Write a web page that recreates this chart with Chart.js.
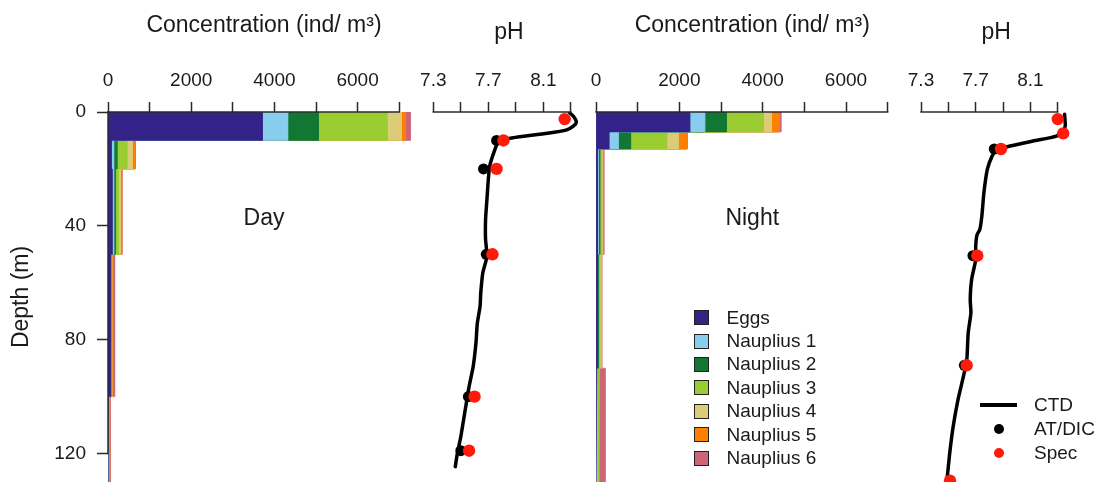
<!DOCTYPE html>
<html lang="en">
<head>
  <meta charset="UTF-8" />
  <title>Nauplii concentration and pH profiles</title>
  <script src="https://cdn.jsdelivr.net/npm/chart.js"></script>
  <style>
    html, body { margin: 0; padding: 0; background: #fff; }
    .stage {
      position: relative; width: 1100px; height: 482px; overflow: hidden;
      font-family: "Liberation Sans", Arial, sans-serif; color: #1a1a1a;
    }
    .stage canvas { position: absolute; left: 0; top: 0; }
    .legend { position: absolute; font-size: 19px; }
    .legend .row { display: flex; align-items: center; white-space: nowrap; }
    .legend .swatch { display: flex; justify-content: center; align-items: center; flex: none; }
    #stageLegend { left: 694px; top: 306px; }
    #stageLegend .row { height: 23.4px; }
    #stageLegend .swatch { width: 15px; margin-right: 17.5px; }
    #phLegend { left: 980px; top: 393px; }
    #phLegend .row { height: 24.2px; }
    #phLegend .swatch { width: 37px; margin-right: 17px; }
    .box { width: 15px; height: 15px; box-sizing: border-box; border: 1.5px solid #222; }
    .rule { width: 37px; height: 3.5px; }
    .dot { width: 10px; height: 10px; border-radius: 50%; }
  </style>
</head>
<body>
  <div class="stage">
    <canvas id="dayConc" width="1100" height="482"></canvas>
    <canvas id="dayPh" width="1100" height="482"></canvas>
    <canvas id="nightConc" width="1100" height="482"></canvas>
    <canvas id="nightPh" width="1100" height="482"></canvas>
    <div class="legend" id="stageLegend"></div>
    <div class="legend" id="phLegend"></div>
  </div>

  <script>
    // ---- life stages ----
    const stageNames = ['Eggs', 'Nauplius 1', 'Nauplius 2', 'Nauplius 3', 'Nauplius 4', 'Nauplius 5', 'Nauplius 6'];
    const stageColors = ['#332288', '#88ccee', '#117733', '#9acd32', '#ddcc77', '#ff7f00', '#cc6677'];

    // ---- day net tows: depth layers (m) and ind/m3 per layer ----
    const dayBreaks = [0, 10, 20, 50, 100, 130];
    const dayEggs = [3710, 80, 100, 60, 3];
    const dayN1 = [610, 56, 40, 5, 2];
    const dayN2 = [740, 80, 40, 5, 2];
    const dayN3 = [1650, 240, 70, 10, 5];
    const dayN4 = [345, 128, 50, 10, 8];
    const dayN5 = [95, 56, 30, 10, 20];
    const dayN6 = [120, 16, 5, 60, 15];

    // ---- night net tows ----
    const nightBreaks = [0, 7, 13, 50, 90, 130];
    const nightEggs = [2250, 310, 40, 30, 20];
    const nightN1 = [360, 225, 20, 10, 10];
    const nightN2 = [520, 295, 30, 20, 10];
    const nightN3 = [890, 865, 40, 30, 20];
    const nightN4 = [190, 280, 20, 30, 10];
    const nightN5 = [190, 200, 20, 10, 10];
    const nightN6 = [40, 15, 20, 10, 140];

    // ---- day pH profiles ----
    const dayCtdDepth = [0.2, 1.6, 3.5, 4.9, 6.3, 7.5, 8.7, 9.4, 10.8, 14.3, 19, 23.7, 30.7, 37.8, 44.8, 50.7,
                         56.5, 63.6, 68.3, 74.2, 81.2, 89.4, 96.5, 102.3, 108.2, 114.1, 119.9, 124.6];
    const dayCtdPh = [8.29, 8.32, 8.34, 8.32, 8.27, 8.13, 7.93, 7.84, 7.77, 7.74, 7.71, 7.70, 7.69, 7.68, 7.68, 7.69,
                      7.66, 7.645, 7.64, 7.62, 7.61, 7.59, 7.56, 7.54, 7.52, 7.50, 7.475, 7.46];
    const dayAtDepth = [10, 20, 50, 100, 119];
    const dayAtPh = [7.76, 7.665, 7.685, 7.555, 7.50];
    const daySpecDepth = [2.5, 10, 20, 50, 100, 119];
    const daySpecPh = [8.255, 7.81, 7.76, 7.73, 7.60, 7.56];

    // ---- night pH profiles ----
    const nightCtdDepth = [0.8, 4.9, 6.5, 8.5, 10.2, 12.2, 13.4, 15.5, 20.2, 28.4, 36.6, 41.3, 43.1, 47.2, 51.9,
                           58.9, 65.9, 70.6, 77.7, 87.1, 93, 101.2, 110.6, 119.9, 129.3, 132];
    const nightCtdPh = [8.35, 8.355, 8.34, 8.29, 8.12, 7.93, 7.855, 7.82, 7.785, 7.76, 7.745, 7.73, 7.71, 7.70, 7.70,
                        7.67, 7.66, 7.665, 7.645, 7.635, 7.61, 7.57, 7.535, 7.51, 7.49, 7.485];
    const nightAtDepth = [13, 50.5, 89];
    const nightAtPh = [7.836, 7.68, 7.617];
    const nightSpecDepth = [2.5, 7.5, 13, 50.5, 89, 129.5];
    const nightSpecPh = [8.30, 8.34, 7.885, 7.712, 7.634, 7.512];

    // ---- axes ----
    const concTicks = [0, 1000, 2000, 3000, 4000, 5000, 6000, 7000];
    const concLabels = ['0', '', '2000', '', '4000', '', '6000', ''];
    const phTicks = [7.3, 7.5, 7.7, 7.9, 8.1, 8.3];
    const phLabels = ['7.3', '', '7.7', '', '8.1', ''];
    const depthTicks = [0, 40, 80, 120];
    const depthLabels = ['0', '40', '80', '120'];

    const textColor = '#1a1a1a';
    const axisColor = '#2b2b2b';
    const fontFamily = '"Liberation Sans", Arial, sans-serif';

    Chart.defaults.font.family = fontFamily;
    Chart.defaults.color = textColor;

    // R-style axis line: only from the first to the last tick
    const axisLinePlugin = {
      id: 'axisLine',
      afterDatasetsDraw(chart) {
        const ctx = chart.ctx;
        ctx.save();
        ctx.strokeStyle = axisColor;
        ctx.lineWidth = 1.5;
        Object.values(chart.scales).forEach(s => {
          if (!s.options.display || !s.ticks.length) return;
          const a = s.getPixelForValue(s.ticks[0].value);
          const b = s.getPixelForValue(s.ticks[s.ticks.length - 1].value);
          ctx.beginPath();
          if (s.isHorizontal()) {
            ctx.moveTo(a - 0.75, s.bottom);
            ctx.lineTo(b + 0.75, s.bottom);
          } else {
            ctx.moveTo(s.right, a - 0.75);
            ctx.lineTo(s.right, b + 0.75);
          }
          ctx.stroke();
        });
        ctx.restore();
      }
    };

    // "Day" / "Night" label placed inside the panel
    const panelLabelPlugin = {
      id: 'panelLabel',
      afterDatasetsDraw(chart, args, opts) {
        if (!opts.text) return;
        const {ctx, chartArea, scales} = chart;
        ctx.save();
        ctx.font = '23px ' + fontFamily;
        ctx.fillStyle = textColor;
        ctx.textAlign = 'center';
        ctx.textBaseline = 'middle';
        ctx.fillText(opts.text, (chartArea.left + chartArea.right) / 2, scales.y.getPixelForValue(opts.depth));
        ctx.restore();
      }
    };

    function topAxis(min, max, tickValues, tickLabels, title, titlePad) {
      return {
        type: 'linear', position: 'top', min: min, max: max,
        grid: { display: true, drawOnChartArea: false, drawTicks: true, tickLength: 10, tickWidth: 1.5, tickColor: axisColor },
        border: { display: false },
        ticks: {
          font: { size: 19 }, padding: 10, autoSkip: false, maxRotation: 0, color: textColor,
          callback: (v, i) => tickLabels[i]
        },
        afterBuildTicks: s => { s.ticks = tickValues.map(v => ({ value: v })); },
        afterFit: s => { s.height = 112; s.paddingLeft = 0; s.paddingRight = 0; },
        title: { display: true, text: title, font: { size: 23 }, color: textColor, padding: { top: titlePad, bottom: 0 } }
      };
    }

    function depthAxis(show) {
      if (!show) return { type: 'linear', reverse: true, min: 0, max: 130, display: false };
      return {
        type: 'linear', position: 'left', reverse: true, min: 0, max: 130,
        grid: { display: true, drawOnChartArea: false, drawTicks: true, tickLength: 11, tickWidth: 1.5, tickColor: axisColor },
        border: { display: false },
        ticks: { font: { size: 19 }, padding: 11, autoSkip: false, color: textColor, callback: (v, i) => depthLabels[i] },
        afterBuildTicks: s => { s.ticks = depthTicks.map(v => ({ value: v })); },
        afterFit: s => { s.width = 108; s.paddingTop = 0; s.paddingBottom = 0; },
        title: { display: true, text: 'Depth (m)', font: { size: 23 }, color: textColor, padding: { top: 8, bottom: 0 } }
      };
    }

    // stacked layers as stair-shaped polygons, one per stage
    function stageDatasets(breaks, series) {
      const left = breaks.slice(0, -1).map(() => 0);
      return series.map((values, k) => {
        const right = values.map((v, i) => left[i] + v);
        const pts = [];
        right.forEach((r, i) => { pts.push({ x: r, y: breaks[i] }, { x: r, y: breaks[i + 1] }); });
        for (let i = left.length - 1; i >= 0; i--) {
          pts.push({ x: left[i], y: breaks[i + 1] }, { x: left[i], y: breaks[i] });
        }
        right.forEach((r, i) => { left[i] = r; });
        return {
          label: stageNames[k], data: pts, fill: 'shape',
          backgroundColor: stageColors[k], borderColor: stageColors[k], borderWidth: 0.6,
          pointRadius: 0, tension: 0
        };
      });
    }

    function toPoints(depths, ph) {
      return depths.map((d, i) => ({ x: ph[i], y: d }));
    }

    function phDatasets(ctdD, ctdP, atD, atP, specD, specP) {
      return [
        { label: 'CTD', data: toPoints(ctdD, ctdP), borderColor: '#000', backgroundColor: '#000', borderWidth: 3.5,
          pointRadius: 0, fill: false, tension: 0.2, borderJoinStyle: 'round', borderCapStyle: 'round', order: 3 },
        { label: 'AT/DIC', data: toPoints(atD, atP), showLine: false, pointRadius: 5.5,
          pointBackgroundColor: '#000', pointBorderColor: 'rgba(0,0,0,0)', pointBorderWidth: 0, order: 2 },
        { label: 'Spec', data: toPoints(specD, specP), showLine: false, pointRadius: 6.2,
          pointBackgroundColor: '#ff1a0a', pointBorderColor: 'rgba(0,0,0,0)', pointBorderWidth: 0, order: 1 }
      ];
    }

    function makeChart(id, datasets, xScale, showDepth, pad, label) {
      return new Chart(document.getElementById(id), {
        type: 'line',
        data: { datasets: datasets },
        options: {
          responsive: false,
          animation: false,
          events: [],
          layout: { autoPadding: false, padding: { left: pad[0], right: pad[1], top: 0, bottom: 0 } },
          scales: { x: xScale, y: depthAxis(showDepth) },
          plugins: {
            legend: { display: false },
            tooltip: { enabled: false },
            panelLabel: label || {}
          }
        },
        plugins: [axisLinePlugin, panelLabelPlugin]
      });
    }

    const concTitle = 'Concentration (ind/ m\u00b3)';

    const dayConc = makeChart('dayConc',
      stageDatasets(dayBreaks, [dayEggs, dayN1, dayN2, dayN3, dayN4, dayN5, dayN6]),
      topAxis(0, 7500, concTicks, concLabels, concTitle, 11.5), true, [0, 680],
      { text: 'Day', depth: 37.5 });

    const dayPh = makeChart('dayPh',
      phDatasets(dayCtdDepth, dayCtdPh, dayAtDepth, dayAtPh, daySpecDepth, daySpecPh),
      topAxis(7.3, 8.4, phTicks, phLabels, 'pH', 19), false, [433.3, 515.4]);

    const nightConc = makeChart('nightConc',
      stageDatasets(nightBreaks, [nightEggs, nightN1, nightN2, nightN3, nightN4, nightN5, nightN6]),
      topAxis(0, 7500, concTicks, concLabels, concTitle, 11.5), false, [596, 191.5],
      { text: 'Night', depth: 37.5 });

    const nightPh = makeChart('nightPh',
      phDatasets(nightCtdDepth, nightCtdPh, nightAtDepth, nightAtPh, nightSpecDepth, nightSpecPh),
      topAxis(7.3, 8.4, phTicks, phLabels, 'pH', 19), false, [921, 28.6]);

    // legends built from the chart datasets
    function buildLegend(el, datasets) {
      datasets.forEach(ds => {
        const row = document.createElement('div');
        row.className = 'row';
        const sw = document.createElement('span');
        sw.className = 'swatch';
        const mark = document.createElement('span');
        if (ds.fill === 'shape') {
          mark.className = 'box';
          mark.style.background = ds.backgroundColor;
        } else if (ds.showLine === false) {
          mark.className = 'dot';
          mark.style.background = ds.pointBackgroundColor;
        } else {
          mark.className = 'rule';
          mark.style.background = ds.borderColor;
        }
        sw.appendChild(mark);
        row.appendChild(sw);
        const txt = document.createElement('span');
        txt.textContent = ds.label;
        row.appendChild(txt);
        el.appendChild(row);
      });
    }

    buildLegend(document.getElementById('stageLegend'), nightConc.data.datasets);
    buildLegend(document.getElementById('phLegend'), nightPh.data.datasets);
  </script>
</body>
</html>
